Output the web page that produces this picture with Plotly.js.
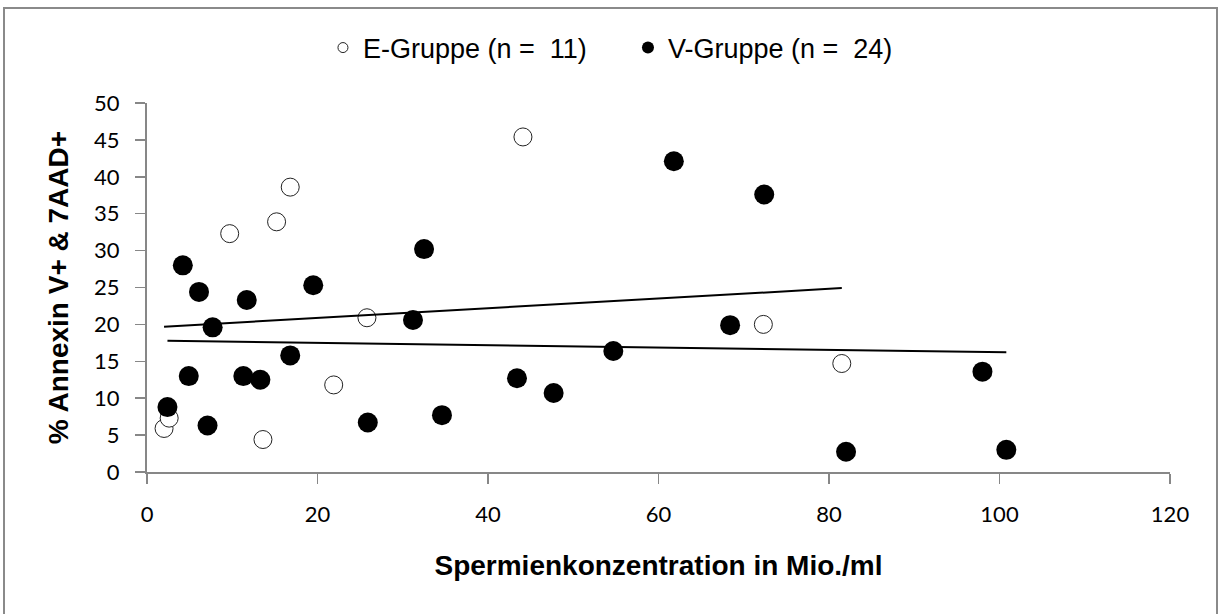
<!DOCTYPE html>
<html>
<head>
<meta charset="utf-8">
<script src="https://cdn.plot.ly/plotly-3.0.1.min.js"></script>
<style>
  html, body { margin: 0; padding: 0; background: #fff; }
  #wrap { position: relative; width: 1218px; height: 614px; overflow: hidden; }
  #chart { position: absolute; left: 0; top: 0; width: 1218px; height: 614px; }
  #frame { position: absolute; left: 3px; top: 7px; width: 1211px; height: 620px;
           border: 2px solid #8a8a8a; pointer-events: none; }
</style>
</head>
<body>
<div id="wrap">
  <div id="chart"></div>
  <div id="frame"></div>
</div>
<script>
// E-Gruppe (n = 11): open circles
const eX = [2.0, 2.6, 9.7, 13.6, 15.2, 16.8, 21.9, 25.8, 44.1, 72.3, 81.5];
const eY = [5.9, 7.3, 32.3, 4.4, 33.9, 38.6, 11.8, 20.9, 45.4, 20.0, 14.7];
// V-Gruppe (n = 24): filled circles
const vX = [2.4, 4.2, 4.9, 6.1, 7.1, 7.7, 11.3, 11.7, 13.3, 16.8, 19.5, 25.9,
            31.2, 32.5, 34.6, 43.4, 47.7, 54.7, 61.8, 68.4, 72.4, 82.0, 98.0, 100.8];
const vY = [8.8, 28.0, 13.0, 24.4, 6.3, 19.6, 13.0, 23.3, 12.5, 15.8, 25.3, 6.7,
            20.6, 30.2, 7.7, 12.7, 10.7, 16.4, 42.1, 19.9, 37.6, 2.75, 13.6, 3.0];
const seriesNames = ['E-Gruppe (n =  11)', 'V-Gruppe (n =  24)'];
const xTicks = [0, 20, 40, 60, 80, 100, 120];
const yTicks = [0, 5, 10, 15, 20, 25, 30, 35, 40, 45, 50];

// linear trend (least squares) spanning the group's x range
function trend(xs, ys) {
  const n = xs.length;
  const mx = xs.reduce((a, b) => a + b, 0) / n;
  const my = ys.reduce((a, b) => a + b, 0) / n;
  let sxy = 0, sxx = 0;
  for (let i = 0; i < n; i++) { sxy += (xs[i] - mx) * (ys[i] - my); sxx += (xs[i] - mx) ** 2; }
  const b = sxy / sxx, a = my - b * mx;
  const x0 = Math.min(...xs), x1 = Math.max(...xs);
  return { x: [x0, x1], y: [a + b * x0, a + b * x1] };
}
const eT = trend(eX, eY);
const vT = trend(vX, vY);

const traces = [
  { x: eX, y: eY, type: 'scatter', mode: 'markers', showlegend: false, hoverinfo: 'x+y',
    marker: { symbol: 'circle', size: 18, color: '#ffffff', line: { color: '#222', width: 1 } } },
  { x: eT.x, y: eT.y, type: 'scatter', mode: 'lines', showlegend: false,
    line: { color: '#000', width: 2 } },
  { x: vT.x, y: vT.y, type: 'scatter', mode: 'lines', showlegend: false,
    line: { color: '#000', width: 2 } },
  { x: vX, y: vY, type: 'scatter', mode: 'markers', showlegend: false, hoverinfo: 'x+y',
    marker: { symbol: 'circle', size: 20, color: '#000', line: { width: 0 } } },
  // legend entries
  { x: [null], y: [null], type: 'scatter', mode: 'markers', name: seriesNames[0],
    marker: { symbol: 'circle', size: 10, color: '#fff', line: { color: '#222', width: 1 } } },
  { x: [null], y: [null], type: 'scatter', mode: 'markers', name: seriesNames[1],
    marker: { symbol: 'circle', size: 12, color: '#000', line: { width: 0 } } }
];

const tickFont = { family: 'Lato, "Open Sans", sans-serif', size: 22, color: '#000' };
const titleFont = { family: '"Liberation Sans", Arial, sans-serif', size: 28, color: '#000', weight: 'bold' };

const layout = {
  width: 1218, height: 614,
  margin: { l: 147, r: 48, t: 103, b: 142 },
  paper_bgcolor: '#fff', plot_bgcolor: '#fff',
  showlegend: true,
  legend: {
    orientation: 'h', x: 0.172, xanchor: 'left', y: 1.149, yanchor: 'middle',
    font: { family: '"Liberation Sans", Arial, sans-serif', size: 27, color: '#000' },
    entrywidth: 260, entrywidthmode: 'pixels', bgcolor: 'rgba(0,0,0,0)'
  },
  xaxis: {
    range: [0, 120], tickvals: xTicks, ticktext: xTicks.map(String),
    showline: true, linecolor: '#878787', linewidth: 2, mirror: false,
    ticks: 'outside', ticklen: 10, tickwidth: 1.5, tickcolor: '#878787',
    showgrid: false, zeroline: false, tickfont: tickFont, ticklabelstandoff: 12,
    title: { text: 'Spermienkonzentration in Mio./ml', font: titleFont, standoff: 29 }
  },
  yaxis: {
    range: [0, 50], tickvals: yTicks, ticktext: yTicks.map(String),
    showline: true, linecolor: '#878787', linewidth: 2,
    ticks: 'outside', ticklen: 10, tickwidth: 1.5, tickcolor: '#878787',
    showgrid: false, zeroline: false, tickfont: tickFont, ticklabelstandoff: 11,
    title: { text: '% Annexin V+ & 7AAD+', font: titleFont, standoff: 17 }
  }
};

Plotly.newPlot('chart', traces, layout, { displayModeBar: false, staticPlot: true });
</script>
</body>
</html>
